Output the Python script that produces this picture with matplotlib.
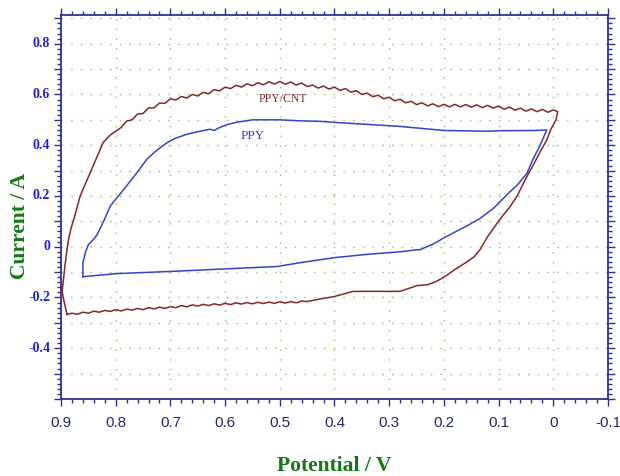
import numpy as np
import matplotlib
matplotlib.use("Agg")
import matplotlib.pyplot as plt
from matplotlib.ticker import MultipleLocator, FixedLocator

# ---- data (potential in V, current in A) ----
# PPY/CNT loop: left edge -> upper (anodic) branch -> right tip -> lower branch
cnt_left_x = [0.889, 0.894, 0.898, 0.895, 0.893, 0.890, 0.887, 0.882, 0.875,
              0.865, 0.855, 0.847, 0.835, 0.823, 0.810, 0.800]
cnt_left_y = [-0.267, -0.220, -0.177, -0.120, -0.078, -0.030, 0.020, 0.070, 0.120,
              0.200, 0.250, 0.290, 0.350, 0.410, 0.440, 0.455]

cnt_top_x = [0.79, 0.78, 0.77, 0.76, 0.75, 0.74, 0.73, 0.72, 0.71, 0.70,
             0.69, 0.68, 0.67, 0.66, 0.65, 0.64, 0.63, 0.62, 0.61, 0.60,
             0.59, 0.58, 0.57, 0.56, 0.55, 0.54, 0.53, 0.52, 0.51, 0.50,
             0.49, 0.48, 0.47, 0.46, 0.45, 0.44, 0.43, 0.42, 0.41, 0.40,
             0.39, 0.38, 0.37, 0.36, 0.35, 0.34, 0.33, 0.32, 0.31, 0.30,
             0.29, 0.28, 0.27, 0.26, 0.25, 0.24, 0.23, 0.22, 0.21, 0.20,
             0.19, 0.18, 0.17, 0.16, 0.15, 0.14, 0.13, 0.12, 0.11, 0.10,
             0.09, 0.08, 0.07, 0.06, 0.05, 0.04, 0.03, 0.02, 0.01, 0.00, -0.008]
cnt_top_y = [0.470, 0.495, 0.500, 0.523, 0.525, 0.547, 0.547, 0.566, 0.565, 0.583,
             0.578, 0.592, 0.586, 0.600, 0.594, 0.608, 0.603, 0.619, 0.614, 0.629,
             0.623, 0.636, 0.629, 0.642, 0.634, 0.646, 0.638, 0.650, 0.641, 0.651,
             0.640, 0.649, 0.637, 0.645, 0.631, 0.637, 0.625, 0.633, 0.621, 0.629,
             0.616, 0.623, 0.609, 0.615, 0.600, 0.605, 0.591, 0.597, 0.583, 0.589,
             0.575, 0.581, 0.567, 0.573, 0.560, 0.567, 0.555, 0.563, 0.552, 0.561,
             0.551, 0.561, 0.551, 0.560, 0.550, 0.559, 0.548, 0.557, 0.546, 0.554,
             0.542, 0.550, 0.538, 0.546, 0.534, 0.543, 0.532, 0.541, 0.530, 0.539, 0.532]

cnt_right_x = [-0.005, 0.005, 0.012, 0.025, 0.037, 0.050, 0.066, 0.080, 0.097, 0.110,
               0.120, 0.128, 0.134, 0.145, 0.158, 0.180, 0.200, 0.215, 0.230, 0.249,
               0.265, 0.280, 0.320, 0.366, 0.400, 0.432, 0.450]
cnt_right_y = [0.500, 0.460, 0.420, 0.370, 0.320, 0.270, 0.200, 0.155, 0.110, 0.070,
               0.040, 0.010, -0.012, -0.040, -0.060, -0.090, -0.120, -0.138, -0.150, -0.153,
               -0.165, -0.176, -0.176, -0.176, -0.196, -0.208, -0.216]

cnt_bot_x = [0.46, 0.47, 0.48, 0.49, 0.50, 0.51, 0.52, 0.53, 0.54, 0.55,
             0.56, 0.57, 0.58, 0.59, 0.60, 0.61, 0.62, 0.63, 0.64, 0.65,
             0.66, 0.67, 0.68, 0.69, 0.70, 0.71, 0.72, 0.73, 0.74, 0.75,
             0.76, 0.77, 0.78, 0.79, 0.80, 0.81, 0.82, 0.83, 0.84, 0.85,
             0.86, 0.87, 0.88, 0.889]
cnt_bot_y = [-0.214, -0.221, -0.216, -0.222, -0.217, -0.223, -0.218, -0.224, -0.219, -0.225,
             -0.220, -0.226, -0.221, -0.228, -0.223, -0.230, -0.225, -0.232, -0.227, -0.234,
             -0.229, -0.237, -0.232, -0.240, -0.236, -0.243, -0.238, -0.245, -0.240, -0.248,
             -0.243, -0.250, -0.246, -0.253, -0.248, -0.255, -0.251, -0.258, -0.254, -0.262,
             -0.258, -0.266, -0.262, -0.267]

# PPY loop
ppy_x = [0.860, 0.860, 0.855, 0.850, 0.840, 0.834, 0.820, 0.810, 0.795, 0.780,
         0.760, 0.743, 0.725, 0.706, 0.690, 0.670, 0.650, 0.628, 0.620, 0.610,
         0.595, 0.580, 0.550, 0.500, 0.463, 0.427, 0.400, 0.340, 0.280, 0.225,
         0.200, 0.120, 0.100, 0.037, 0.012, 0.018, 0.024, 0.037, 0.048, 0.065,
         0.080, 0.110, 0.135, 0.158, 0.200, 0.220, 0.244, 0.250, 0.280, 0.340,
         0.400, 0.463, 0.505, 0.586, 0.706, 0.798, 0.860]
ppy_y = [-0.118, -0.063, -0.020, 0.008, 0.030, 0.047, 0.110, 0.160, 0.200, 0.240,
         0.295, 0.345, 0.380, 0.410, 0.428, 0.443, 0.453, 0.463, 0.458, 0.470,
         0.482, 0.490, 0.500, 0.500, 0.496, 0.494, 0.490, 0.482, 0.474, 0.463,
         0.458, 0.455, 0.457, 0.458, 0.460, 0.430, 0.400, 0.345, 0.290, 0.245,
         0.215, 0.150, 0.110, 0.082, 0.035, 0.010, -0.012, -0.012, -0.020, -0.030,
         -0.043, -0.063, -0.078, -0.086, -0.098, -0.106, -0.118]

cnt_x = cnt_left_x + cnt_top_x + cnt_right_x + cnt_bot_x
cnt_y = cnt_left_y + cnt_top_y + cnt_right_y + cnt_bot_y

x_ticks = [0.9, 0.8, 0.7, 0.6, 0.5, 0.4, 0.3, 0.2, 0.1, 0.0, -0.1]
x_tick_labels = ["0.9", "0.8", "0.7", "0.6", "0.5", "0.4", "0.3", "0.2", "0.1", "0", "-0.1"]
y_label_ticks = [-0.4, -0.2, 0.0, 0.2, 0.4, 0.6, 0.8]
y_tick_labels = ["-0.4", "-0.2", "0", "0.2", "0.4", "0.6", "0.8"]

# ---- styling ----
axis_col = "#2e3192"
brown = "#872626"
blue = "#3344cc"
green = "#137a13"
grid_col = "#a3b273"

fig = plt.figure(figsize=(6.2, 4.76), dpi=100)
ax = fig.add_axes([61 / 620, 1 - 399 / 476, 547 / 620, 384 / 476])

ax.plot(cnt_x, cnt_y, color=brown, lw=1.1)
ax.plot(ppy_x, ppy_y, color=blue, lw=1.1)

ax.set_xlim(0.9, -0.1)
ax.set_ylim(-0.6, 0.913)

ax.xaxis.set_major_locator(FixedLocator(x_ticks))
ax.set_xticklabels(x_tick_labels)
ax.xaxis.set_minor_locator(MultipleLocator(0.02))
ax.yaxis.set_major_locator(MultipleLocator(0.1))
ax.yaxis.set_minor_locator(MultipleLocator(0.02))
ax.set_yticklabels([])

# y tick labels: bold blue, only every 0.2
for lbl, v in zip(y_tick_labels, y_label_ticks):
    ax.text(-0.02, v, lbl, transform=ax.get_yaxis_transform(), ha="right", va="center",
            color="#1e22d8", fontsize=10, fontweight="bold", family="Liberation Serif")

ax.tick_params(which="both", direction="out", colors=axis_col, top=True, right=True, width=1.0)
ax.tick_params(which="major", length=5)
ax.tick_params(which="minor", length=3)
ax.tick_params(axis="x", which="major", labelsize=11, labelcolor="#1f2a6e", pad=7)
for t in ax.get_xticklabels():
    t.set_family("Liberation Sans")

for s in ax.spines.values():
    s.set_color(axis_col)
    s.set_linewidth(1.3)

ax.grid(True, which="major", color=grid_col, linestyle=(0, (1, 6)), linewidth=1.0)

ax.text(0.494, 0.584, "PPY/CNT", color=brown, fontsize=8.5, family="Liberation Serif",
        ha="center", va="center")
ax.text(0.549, 0.435, "PPY", color=blue, fontsize=9.5, family="Liberation Serif",
        ha="center", va="center")

fig.text(334 / 620, 1 - 466 / 476, "Potential / V", color=green, fontsize=15.5,
         fontweight="bold", family="Liberation Serif", ha="center", va="center")
fig.text(20 / 620, 1 - 226 / 476, "Current / A", color=green, fontsize=15.5,
         fontweight="bold", family="Liberation Serif", ha="center", va="center", rotation=90)

fig.savefig("out.png", dpi=100)
